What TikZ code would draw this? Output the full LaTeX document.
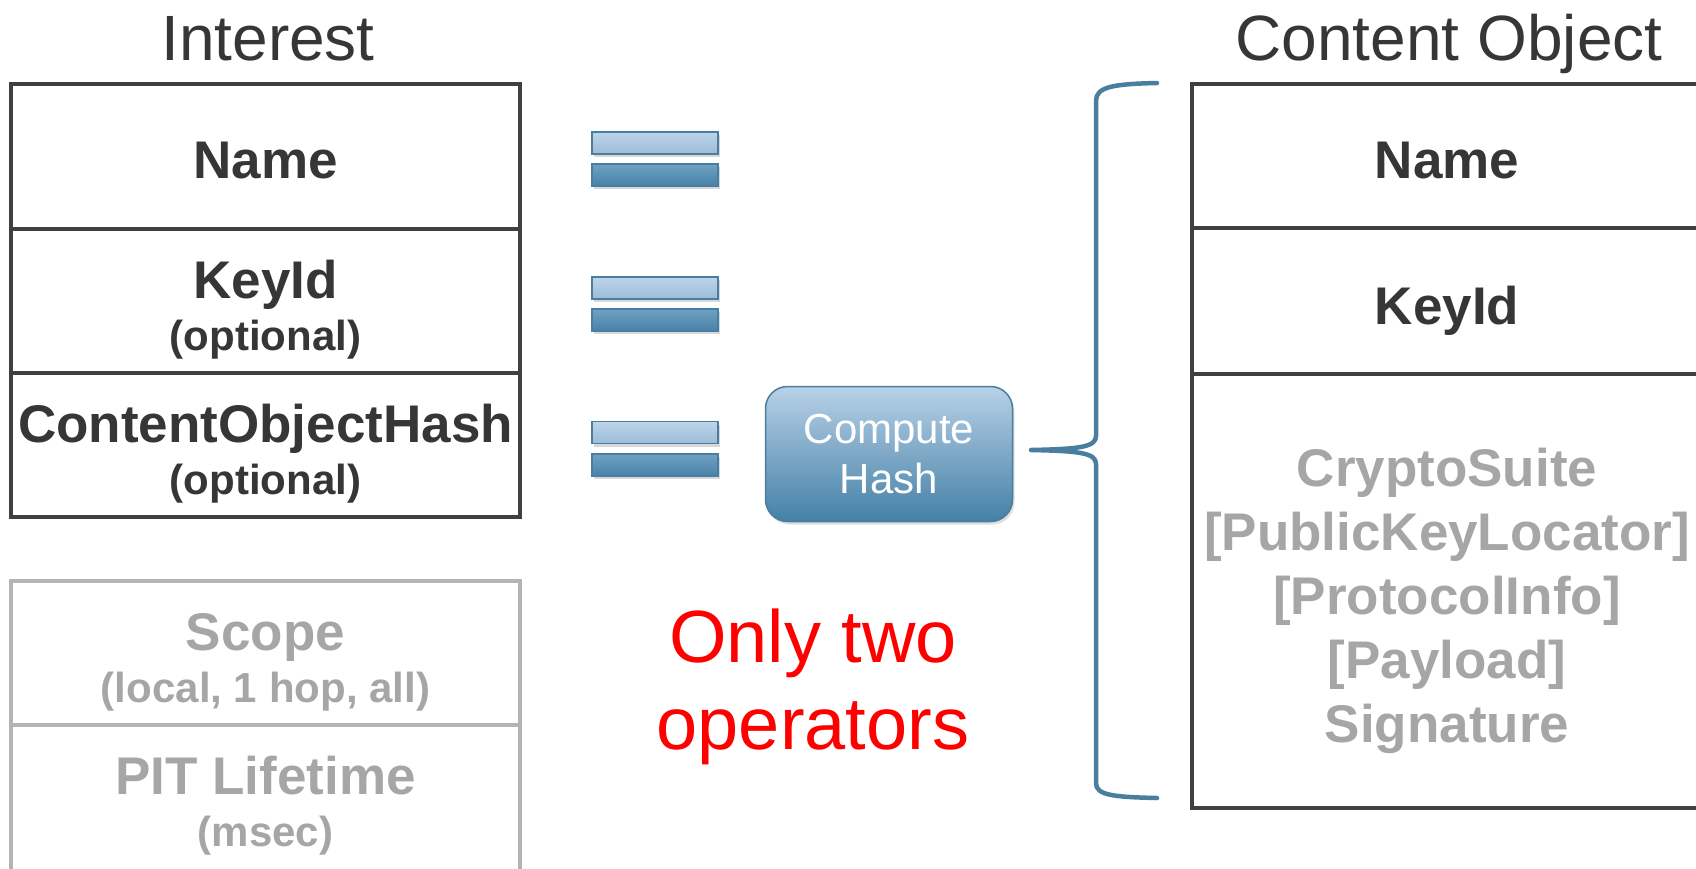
\documentclass[tikz,border=0pt]{standalone}
\usepackage{fontspec}
\setmainfont{Liberation Sans}
\usetikzlibrary{shadows}
\definecolor{dline}{HTML}{404040}
\definecolor{dtext}{HTML}{363636}
\definecolor{gline}{HTML}{B4B4B4}
\definecolor{gtext}{HTML}{A6A6A6}
\definecolor{steel}{HTML}{4A7E9F}
\definecolor{lbtop}{HTML}{BDD4E9}
\definecolor{lbbot}{HTML}{9CBCD8}
\definecolor{dbtop}{HTML}{6FA1C5}
\definecolor{dbbot}{HTML}{4881A7}
\definecolor{chtop}{HTML}{B8D1E7}
\definecolor{chbot}{HTML}{4480A6}
\begin{document}
\begin{tikzpicture}[x=1pt,y=-1pt,
  row/.style={draw=dline, line width=4.5pt, rectangle, inner sep=0pt, minimum width=509pt, minimum height=#1},
  grow/.style={row=#1, draw=gline},
  title/.style={anchor=base, text=dtext, font=\fontsize{64}{72}\selectfont},
  lbl/.style={anchor=base, text=dtext, font=\bfseries\fontsize{53}{60}\selectfont},
  sublbl/.style={anchor=base, text=dtext, font=\bfseries\fontsize{42}{48}\selectfont},
  glbl/.style={lbl, text=gtext},
  gsub/.style={sublbl, text=gtext},
  bar/.style={rectangle, draw=steel, line width=1.4pt, inner sep=0pt, minimum width=126pt, minimum height=22pt,
    drop shadow={opacity=0.3, shadow xshift=1.5pt, shadow yshift=-3pt}},
  lightbar/.style={bar, top color=lbtop, bottom color=lbbot},
  darkbar/.style={bar, top color=dbtop, bottom color=dbbot},
  hashbox/.style={rectangle, rounded corners=22pt, draw=steel, line width=1.5pt, top color=chtop, bottom color=chbot,
    minimum width=247pt, minimum height=135pt, inner sep=0pt, align=center, text=white,
    font=\fontsize{42}{50}\selectfont,
    drop shadow={opacity=0.25, shadow xshift=2pt, shadow yshift=-3pt}},
  redtxt/.style={anchor=base, text=red, font=\fontsize{74}{86}\selectfont},
  brace/.style={draw=steel, line width=4.5pt, line cap=round, line join=round}
]
\useasboundingbox (0,0) rectangle (1696,868);
\clip (0,0) rectangle (1696,868);
\fill[white] (0,0) rectangle (1696,868);

% Interest
\node[title] (ititle) at (268,60) {Interest};
\node[row=145pt] (iname) at (265.5,156.5) {};
\node[row=144pt] (ikey) at (265.5,301) {};
\node[row=144pt] (ihash) at (265.5,445) {};
\node[lbl] (tiname) at (265.5,178.5) {Name};
\node[lbl] (tikey) at (265.5,298) {KeyId};
\node[sublbl] (tikeyo) at (265.5,350) {(optional)};
\node[lbl] (tihash) at (265.5,442) {ContentObjectHash};
\node[sublbl] (tihasho) at (265.5,494) {(optional)};

% grey rows
\node[grow=144pt] (iscope) at (265.5,653) {};
\node[grow=155pt] (ipit) at (265.5,802.5) {};
\node[glbl] (tscope) at (265.5,650) {Scope};
\node[gsub] (tscopeo) at (265.5,702) {(local, 1 hop, all)};
\node[glbl] (tpit) at (265.5,794) {PIT Lifetime};
\node[gsub] (tpito) at (265.5,846) {(msec)};

% equals bars
\node[lightbar] (e1a) at (655,143) {};
\node[darkbar]  (e1b) at (655,175) {};
\node[lightbar] (e2a) at (655,288) {};
\node[darkbar]  (e2b) at (655,320) {};
\node[lightbar] (e3a) at (655,432.5) {};
\node[darkbar]  (e3b) at (655,465) {};

% compute hash
\node[hashbox] (chash) at (889,454) {Compute\\Hash};

% red text
\node[redtxt] (op1) at (813,662) {Only two};
\node[redtxt] (op2) at (813,749) {operators};

% brace
\coordinate (btop) at (1157,83);
\coordinate (bbot) at (1157,798);
\coordinate (btip) at (1031,450);
\draw[brace] (btop) .. controls (1112,84) and (1096,87) .. (1096,101)
  -- (1096,436) .. controls (1096,447) and (1080,449) .. (btip)
  .. controls (1080,451) and (1096,453) .. (1096,464)
  -- (1096,783) .. controls (1096,795) and (1112,797) .. (bbot);

% Content Object
\node[title] (ctitle) at (1449,60) {Content Object};
\node[row=144pt, minimum width=510pt] (cname) at (1447,156) {};
\node[row=146pt, minimum width=510pt] (ckey) at (1447,301) {};
\node[row=434pt, minimum width=510pt] (crest) at (1447,591) {};
\node[lbl] (tcname) at (1447,178.5) {Name};
\node[lbl] (tckey) at (1447,324.5) {KeyId};
\node[glbl] (tc1) at (1447,486) {CryptoSuite};
\node[glbl] (tc2) at (1447,550) {[PublicKeyLocator]};
\node[glbl] (tc3) at (1447,614) {[ProtocolInfo]};
\node[glbl] (tc4) at (1447,678) {[Payload]};
\node[glbl] (tc5) at (1447,742) {Signature};
\end{tikzpicture}
\end{document}
